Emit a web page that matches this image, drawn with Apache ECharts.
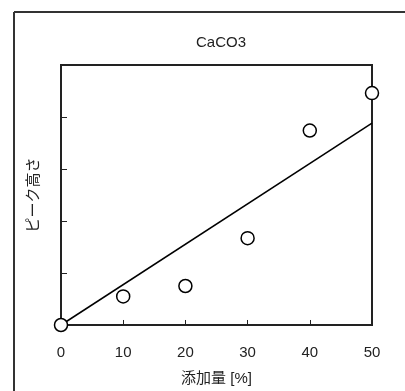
<!DOCTYPE html>
<html>
<head>
<meta charset="utf-8">
<script src="https://cdn.jsdelivr.net/npm/echarts@6/dist/echarts.min.js"></script>
<style>
  html, body { margin: 0; padding: 0; background: #fff; }
  #chart { width: 405px; height: 391px; }
</style>
</head>
<body>
<div id="chart"></div>
<script>
// Additive amount [%] and measured peak height (arbitrary units)
const amounts = [0, 10, 20, 30, 40, 50];
const peakHeights = [0, 0.55, 0.75, 1.67, 3.74, 4.46];
// Fitted straight line through the origin (endpoints)
const fitX = [0, 50];
const fitY = [0, 3.88];
const xTicks = [0, 10, 20, 30, 40, 50];

const FONT = '"Liberation Sans", Arial, "Noto Sans CJK JP", sans-serif';
const INK = '#222';

const chart = echarts.init(document.getElementById('chart'), null, { renderer: 'canvas' });

chart.setOption({
  animation: false,
  backgroundColor: '#fff',
  title: {
    text: 'CaCO3',
    left: 216,
    textAlign: 'center',
    top: 30,
    textStyle: { fontFamily: FONT, fontSize: 15, fontWeight: 'normal', color: INK }
  },
  grid: {
    left: 61, top: 65, right: 33, bottom: 66,
    show: true, borderColor: INK, borderWidth: 2, backgroundColor: 'transparent'
  },
  graphic: [
    { type: 'line', shape: { x1: 14, y1: 12, x2: 405, y2: 12 }, style: { stroke: '#333', lineWidth: 2 } },
    { type: 'line', shape: { x1: 14, y1: 12, x2: 14, y2: 391 }, style: { stroke: '#333', lineWidth: 2 } }
  ],
  xAxis: {
    type: 'value',
    min: xTicks[0], max: xTicks[xTicks.length - 1], interval: 10,
    name: '添加量 [%]',
    nameLocation: 'middle',
    nameGap: 46,
    nameTextStyle: { fontFamily: FONT, fontSize: 15, color: INK },
    axisLine: { show: true, lineStyle: { color: INK, width: 2 } },
    axisTick: { show: true, inside: true, length: 5, lineStyle: { color: INK, width: 1 } },
    axisLabel: { margin: 20, fontFamily: FONT, fontSize: 15, color: INK },
    splitLine: { show: false }
  },
  yAxis: {
    type: 'value',
    min: 0, max: 5, interval: 1,
    name: 'ピーク高さ',
    nameLocation: 'middle',
    nameGap: 20,
    nameRotate: 90,
    nameTextStyle: { fontFamily: FONT, fontSize: 15, color: INK },
    axisLine: { show: true, lineStyle: { color: INK, width: 2 } },
    axisTick: { show: true, inside: true, length: 6, lineStyle: { color: INK, width: 1 } },
    axisLabel: { show: false },
    splitLine: { show: false }
  },
  series: [
    {
      type: 'line',
      data: fitX.map((x, i) => [x, fitY[i]]),
      symbol: 'none',
      lineStyle: { color: '#000', width: 1.5 },
      z: 3
    },
    {
      type: 'scatter',
      data: amounts.map((x, i) => [x, peakHeights[i]]),
      symbol: 'circle',
      symbolSize: 13,
      clip: false,
      itemStyle: { color: '#fff', borderColor: '#000', borderWidth: 1.5, opacity: 1 },
      z: 5
    }
  ]
});
</script>
</body>
</html>
